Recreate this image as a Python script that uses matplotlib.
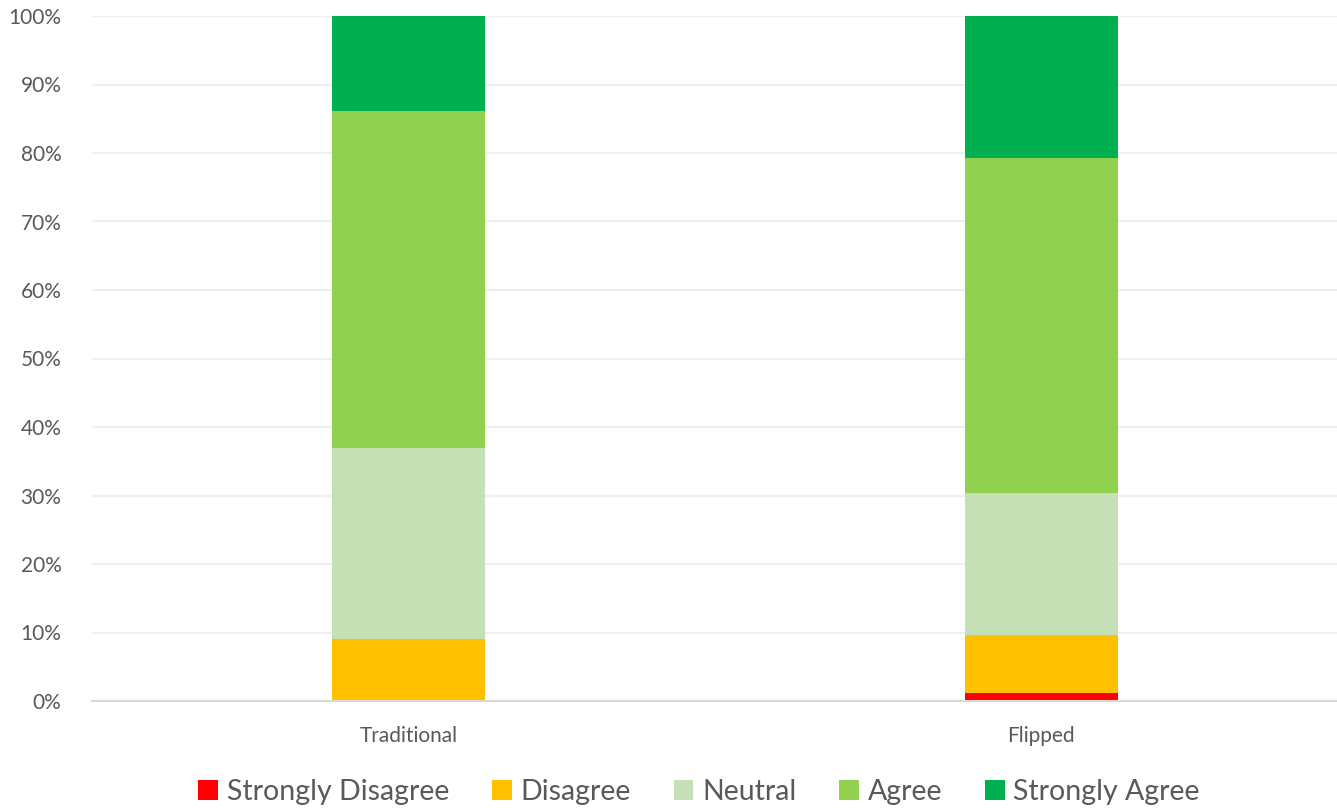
import matplotlib.pyplot as plt
from matplotlib.patches import Patch
from matplotlib.ticker import PercentFormatter

plt.rcParams['font.family'] = ['Lato', 'DejaVu Sans']

groups = ['Traditional', 'Flipped']
responses = ['Strongly Disagree', 'Disagree', 'Neutral', 'Agree', 'Strongly Agree']
# percent of respondents per group, bottom to top
traditional = [0.0, 9.1, 27.8, 49.2, 13.9]
flipped = [1.1, 8.5, 20.7, 49.0, 20.7]
colors = ['#FF0000', '#FFC000', '#C5E0B4', '#92D050', '#00B050']

fig = plt.figure(figsize=(13.37, 8.08), dpi=100)
ax = fig.add_axes([92 / 1337, 107 / 808, 1245 / 1337, 685 / 808])

x = range(len(groups))
bottoms = [0.0, 0.0]
for i, resp in enumerate(responses):
    vals = [traditional[i], flipped[i]]
    ax.bar(x, vals, width=0.242, bottom=bottoms, color=colors[i], zorder=3)
    bottoms = [b + v for b, v in zip(bottoms, vals)]

ax.set_ylim(0, 100)
ax.set_xlim(-0.5, 1.467)
ax.set_yticks(range(0, 101, 10))
ax.yaxis.set_major_formatter(PercentFormatter(decimals=0))
ax.set_xticks(list(x))
ax.set_xticklabels(groups)
ax.grid(axis='y', color='#EFEFEF', linewidth=1.5, zorder=0)
for s in ['top', 'right', 'left']:
    ax.spines[s].set_visible(False)
ax.spines['bottom'].set_color('#D9D9D9')
ax.spines['bottom'].set_linewidth(1.5)
ax.spines['bottom'].set_zorder(4)
ax.tick_params(axis='both', length=0, labelsize=15, labelcolor='#595959')
ax.tick_params(axis='y', pad=22)
ax.tick_params(axis='x', pad=18)

handles = [Patch(facecolor=c, label=r) for c, r in zip(colors, responses)]
fig.legend(handles=handles, loc='center', bbox_to_anchor=(699 / 1337, 16 / 808),
           ncol=5, frameon=False, fontsize=20.5, labelcolor='#595959',
           handlelength=0.7, handleheight=0.7, handletextpad=0.3, columnspacing=1.5)

fig.savefig('out.png', dpi=100)
